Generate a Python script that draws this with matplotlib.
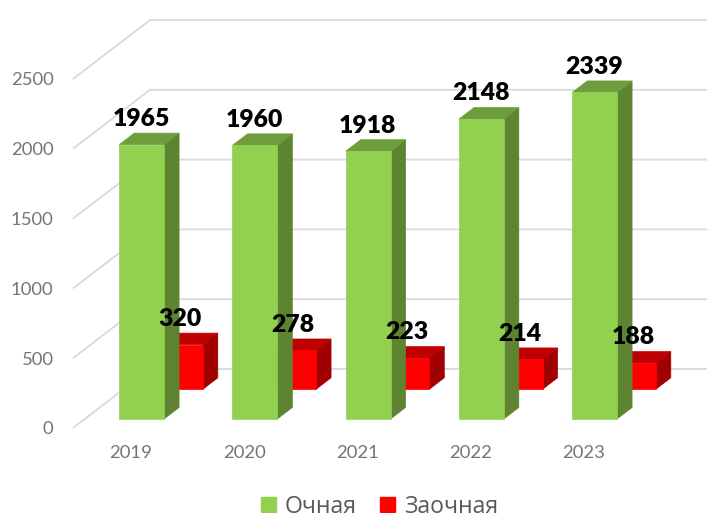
import matplotlib
matplotlib.use('Agg')
from matplotlib import pyplot as plt
from matplotlib.patches import Patch, Polygon

years = ['2019', '2020', '2021', '2022', '2023']
ochnaya = [1965, 1960, 1918, 2148, 2339]
zaochnaya = [320, 278, 223, 214, 188]
y_ticks = [0, 500, 1000, 1500, 2000, 2500]

# scale of the picture, pixels per category and per unit of value
px_cat = 113.25
px_val = 0.1396
# the depth axis is sheared: full depth moves 77 px right and 59 px up
depth_x = 77 / px_cat
depth_y = 59 / px_val

bar_left = 0.304
bar_w = 0.396
green_z = (0.153, 0.348)
red_z = (0.656, 0.851)


def shear(x, v, z):
	return (x + z * depth_x, v + z * depth_y)


def draw_bar(i, val, zs, front, top, side, order):
	x0 = i + bar_left
	x1 = x0 + bar_w
	z0, z1 = zs
	ax.add_patch(Polygon([shear(x1, 0, z0), shear(x1, 0, z1), shear(x1, val, z1), shear(x1, val, z0)],
		facecolor=side, edgecolor=side, lw=0.5, zorder=order))
	ax.add_patch(Polygon([shear(x0, val, z0), shear(x1, val, z0), shear(x1, val, z1), shear(x0, val, z1)],
		facecolor=top, edgecolor=top, lw=0.5, zorder=order))
	ax.add_patch(Polygon([shear(x0, 0, z0), shear(x1, 0, z0), shear(x1, val, z0), shear(x0, val, z0)],
		facecolor=front, edgecolor=front, lw=0.5, zorder=order))


def bar_label(i, val, zs, color='black'):
	ax.annotate(str(val), xy=shear(i + bar_left + bar_w / 2, val, zs[0]), xytext=(-0.3, 18.5),
		textcoords='offset points', ha='center', va='center', fontsize=17.8,
		fontweight=800, family='Lato', color=color, zorder=10)


fig = plt.figure(figsize=(7.07, 5.13), dpi=100)
ax = fig.add_axes([0, 0, 1, 1])
ax.set_xlim(-73 / px_cat, (707 - 73) / px_cat)
ax.set_ylim(-85 / px_val, 428 / px_val)
ax.axis('off')

grid_c = '#d9d9d9'
for t in y_ticks:
	# side wall then back wall
	xs = [0, depth_x, 5 + depth_x]
	ys = [t, t + depth_y, t + depth_y]
	ax.plot(xs, ys, color=grid_c, lw=1.3, zorder=1, solid_capstyle='butt')
	ax.annotate(str(t), xy=(0, t), xytext=(-14, -1), textcoords='offset points', ha='right', va='center',
		fontsize=13.3, family='Lato', color='#757575')

for i, y in enumerate(years):
	ax.annotate(y, xy=(i + 0.5, 0), xytext=(1, -18), textcoords='offset points', ha='center', va='center',
		fontsize=13.3, family='Lato', color='#757575')

for i in range(len(years)):
	draw_bar(i, zaochnaya[i], red_z, '#ff0000', '#c00000', '#a00000', 2)
for i in range(len(years)):
	draw_bar(i, ochnaya[i], green_z, '#92d050', '#6f9c3d', '#5e8431', 3)
for i in range(len(years)):
	bar_label(i, ochnaya[i], green_z)
	bar_label(i, zaochnaya[i], red_z)

handles = [Patch(color='#92d050', label='Очная'), Patch(color='#ff0000', label='Заочная')]
leg = ax.legend(handles=handles, ncol=2, loc='center', bbox_to_anchor=(0.537, 0.012), frameon=False,
	prop={'family': 'Open Sans', 'size': 16.6}, handlelength=0.65, handleheight=0.65,
	handletextpad=0.4, columnspacing=1.0, labelcolor='#595959')

plt.savefig('out.png', dpi=100)
